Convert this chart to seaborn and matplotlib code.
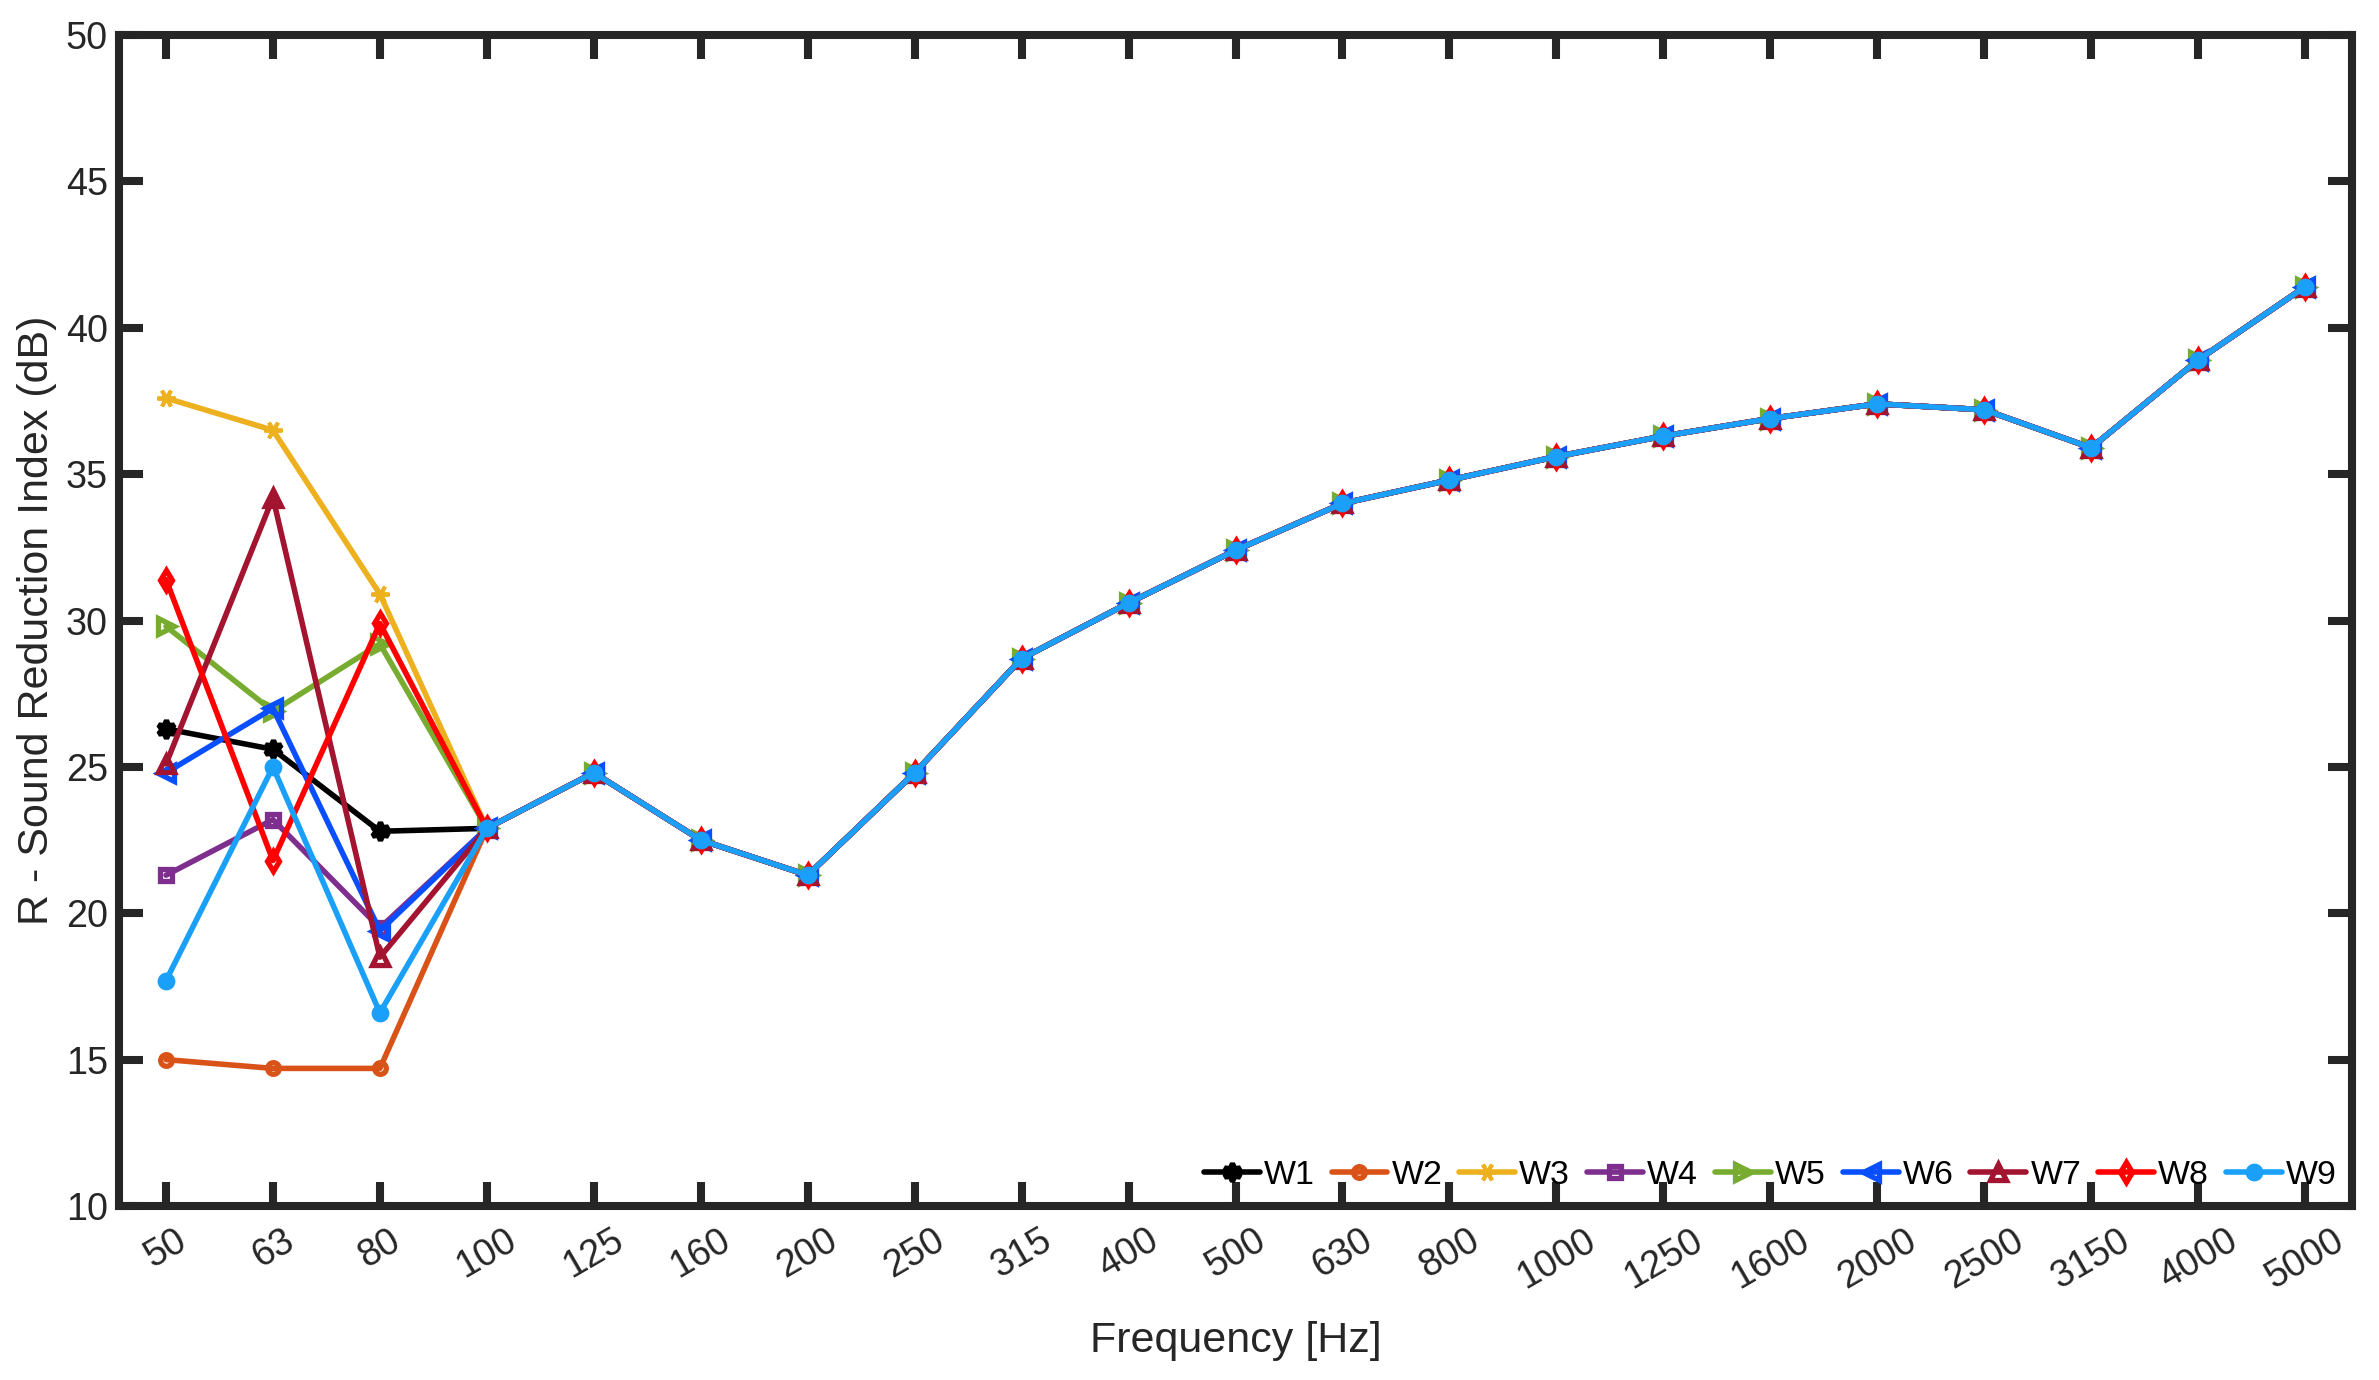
import numpy as np
import pandas as pd
import matplotlib
matplotlib.use("Agg")
import matplotlib.pyplot as plt
import seaborn as sns

# 1. data
freqs = ["50", "63", "80", "100", "125", "160", "200", "250", "315", "400", "500",
         "630", "800", "1000", "1250", "1600", "2000", "2500", "3150", "4000", "5000"]

# shared values from 100 Hz upward (all walls coincide there)
tail = [22.9, 24.8, 22.5, 21.3, 24.8, 28.7, 30.6, 32.4, 34.0, 34.8,
        35.6, 36.3, 36.9, 37.4, 37.2, 35.9, 38.9, 41.4]

# values at 50, 63, 80 Hz
w1_low = [26.3, 25.6, 22.8]
w2_low = [15.0, 14.7, 14.7]
w3_low = [37.6, 36.5, 30.9]
w4_low = [21.3, 23.2, 19.5]
w5_low = [29.8, 26.9, 29.2]
w6_low = [24.8, 27.0, 19.4]
w7_low = [25.1, 34.2, 18.5]
w8_low = [31.4, 21.8, 29.9]
w9_low = [17.7, 25.0, 16.6]

series = {
    "W1": w1_low + tail,
    "W2": w2_low + tail,
    "W3": w3_low + tail,
    "W4": w4_low + tail,
    "W5": w5_low + tail,
    "W6": w6_low + tail,
    "W7": w7_low + tail,
    "W8": w8_low + tail,
    "W9": w9_low + tail,
}

# 2. styles: (color, marker, filled, size, edge width)
styles = {
    "W1": ("#000000", (6, 1, 0), True, 6.5, 1.9),
    "W2": ("#D95319", "o", False, 4.2, 1.9),
    "W3": ("#EDB120", (6, 2, 90), False, 6.5, 1.4),
    "W4": ("#7E2F8E", "s", False, 4.0, 1.9),
    "W5": ("#77AC30", ">", False, 5.5, 1.9),
    "W6": ("#0A4FFF", "<", False, 5.5, 1.9),
    "W7": ("#A2142F", "^", False, 5.5, 1.9),
    "W8": ("#FF0000", "d", False, 5.0, 1.9),
    "W9": ("#1AA0F8", "o", True, 4.5, 1.9),
}

sns.set_theme(style="ticks")
plt.rcParams["font.family"] = ["Liberation Sans", "DejaVu Sans"]
dark = "#262626"

fig = plt.figure(figsize=(11.895, 6.9), dpi=200)
ax = fig.add_axes([0.050, 0.1261, 0.9387, 0.8485])

x_idx = np.arange(len(freqs))
for name, vals in series.items():
    color, marker, filled, ms, mew = styles[name]
    sns.lineplot(x=x_idx, y=vals, ax=ax, color=color, marker=marker,
                 markersize=ms,
                 markerfacecolor=color if filled else "none",
                 markeredgecolor=color, markeredgewidth=mew,
                 linewidth=2.0, label=name)

ax.set_xlim(-0.44, 20.44)
ax.set_ylim(10, 50)
ax.set_yticks(np.arange(10, 51, 5))
ax.set_xticks(x_idx)
ax.set_xticklabels(freqs, rotation=30, ha="center")

for side in ["left", "right", "top", "bottom"]:
    ax.spines[side].set_visible(True)
    ax.spines[side].set_linewidth(2.9)
    ax.spines[side].set_color(dark)
ax.tick_params(axis="both", direction="in", length=8.5, width=2.9, color=dark,
               labelsize=13.6, labelcolor=dark, top=True, right=True, pad=4)
ax.tick_params(axis="x", pad=6)

ax.set_xlabel("Frequency [Hz]", fontsize=15.5, color=dark, labelpad=9)
ax.set_ylabel("R - Sound Reduction Index (dB)", fontsize=15.5, color=dark, labelpad=3)

leg = ax.legend(loc="lower right", ncol=9, frameon=False, fontsize=12.2,
                handlelength=1.65, handletextpad=0.12, columnspacing=0.5,
                borderaxespad=0.25, borderpad=0.2)
for t in leg.get_texts():
    t.set_color("#000000")

fig.savefig("out.png", dpi=200, facecolor="white")
